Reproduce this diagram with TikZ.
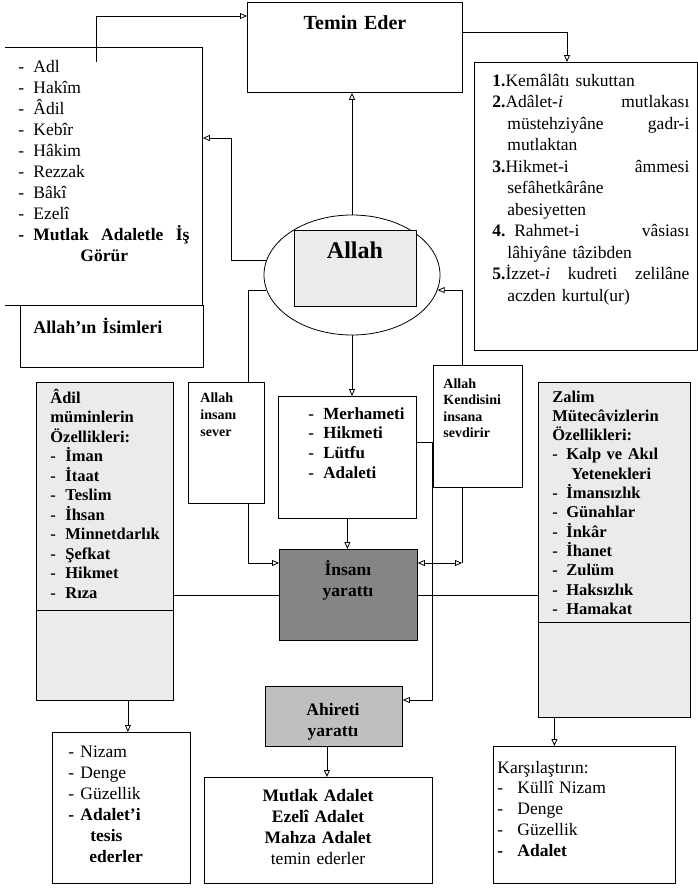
\documentclass[tikz,border=0pt]{standalone}
\usepackage{fontspec}
\setmainfont{Liberation Serif}
\usetikzlibrary{arrows.meta,shapes.geometric}
\newcommand{\itm}[2][15pt]{\makebox[#1][l]{-}#2}
\newcommand{\fs}[2]{\fontsize{#1}{#2}\selectfont}

\begin{document}
\begin{tikzpicture}[x=1pt,y=-1pt,line width=0.8pt,
  box/.style={draw,anchor=north west,inner sep=0pt},
  dotbox/.style={box,fill=black!8},
  txt/.style={anchor=base west,inner sep=0pt,align=left,text width=#1},
  txt/.default=140,
  ctr/.style={anchor=base,inner sep=0pt,align=center,text width=#1},
  ctr/.default=200,
  arr/.style={-{Triangle[open,length=7pt,width=6pt]}},
  arrs/.style={{Triangle[open,length=7pt,width=6pt]}-{Triangle[open,length=7pt,width=6pt]}}]
\useasboundingbox (0,0) rectangle (698,889);

\node[box,minimum width=215,minimum height=90] (temin) at (247,2) {};
\node[anchor=north west,inner sep=0pt,minimum width=197,minimum height=258] (names) at (5,47) {};
\draw (names.north west) -- (names.north east) -- (names.south east) -- (names.south west);
\node[box,minimum width=183,minimum height=62] (isim) at (20,305) {};
\node[box,minimum width=223,minimum height=288] (nums) at (474,62) {};
\node[draw,ellipse,minimum width=176,minimum height=120,inner sep=0pt] (ell) at (352,275) {};
\node[dotbox,minimum width=122,minimum height=76] (allah) at (294,230) {};
\node[box,minimum width=76,minimum height=121] (sever) at (188,382) {};
\node[box,minimum width=138,minimum height=122] (merh) at (278,396) {};
\node[box,minimum width=89,minimum height=122] (kendi) at (433,365) {};
\node[box,fill=black!48,minimum width=138,minimum height=91] (insan) at (279,549) {};
\node[dotbox,minimum width=137,minimum height=318] (adil) at (36,382) {};
\node[dotbox,minimum width=152,minimum height=335] (zalim) at (538,382) {};
\node[box,fill=black!25,minimum width=137,minimum height=60] (ahiret) at (265,686) {};
\node[box,minimum width=138,minimum height=151] (nizam) at (52,732) {};
\node[box,minimum width=228,minimum height=106] (mutlak) at (204,777) {};
\node[box,minimum width=182,minimum height=137] (kars) at (493,746) {};
\draw ([yshift=-228pt]adil.north west) -- ([yshift=-228pt]adil.north east);
\draw ([yshift=-240pt]zalim.north west) -- ([yshift=-240pt]zalim.north east);

\node[ctr,font=\fs{20}{24}\bfseries] (temin-t) at (355,29) {Temin Eder};
\node[txt=171,font=\fs{17.5}{21}] (names-t) at (18,72) {\itm{Adl}\\\itm{Hakîm}\\\itm{Âdil}\\\itm{Kebîr}\\\itm{Hâkim}\\\itm{Rezzak}\\\itm{Bâkî}\\\itm{Ezelî}\\\textbf{\itm{Mutlak}\hfill Adaletle\hfill İş}\\\hspace*{62pt}\textbf{Görür}};
\node[txt=170,font=\fs{18}{21}\bfseries] (isim-t) at (33,333) {Allah’ın İsimleri};
\node[txt=197,font=\fs{17.5}{21.5}] (nums-t) at (492,86) {\textbf{1.}Kemâlâtı sukuttan\\
  \textbf{2.}Adâlet-\textit{i}\hfill mutlakası\\
  \hspace*{15pt}müstehziyâne\hfill gadr-i\\
  \hspace*{15pt}mutlaktan\\
  \textbf{3.}Hikmet-i\hfill âmmesi\\
  \hspace*{15pt}sefâhetkârâne\\
  \hspace*{15pt}abesiyetten\\
  \textbf{4.} Rahmet-i\hfill vâsiası\\
  \hspace*{15pt}lâhiyâne tâzibden\\
  \textbf{5.}İzzet-\textit{i}\hfill kudreti\hfill zelilâne\\
  \hspace*{15pt}aczden kurtul(ur)};
\node[ctr,font=\fs{24}{28}\bfseries] (allah-t) at (355,258) {Allah};
\node[txt=105,font=\fs{17}{19.7}\bfseries] (merh-t) at (308,419) {\itm{Merhameti}\\\itm{Hikmeti}\\\itm{Lütfu}\\\itm{Adaleti}};
\node[txt=62,font=\fs{14}{17}\bfseries] (sever-t) at (200,402) {Allah\\insanı\\sever};
\node[txt=78,font=\fs{14}{16.5}\bfseries] (kendi-t) at (443,388) {Allah\\Kendisini\\insana\\sevdirir};
\node[ctr=130,font=\fs{17.5}{21}\bfseries] (insan-t) at (348,575) {İnsanı\\yarattı};
\node[txt=120,font=\fs{16.5}{19.5}\bfseries] (adil-t) at (50,403) {Âdil\\müminlerin\\Özellikleri:\\\itm{İman}\\\itm{İtaat}\\\itm{Teslim}\\\itm{İhsan}\\\itm{Minnetdarlık}\\\itm{Şefkat}\\\itm{Hikmet}\\\itm{Rıza}};
\node[txt=135,font=\fs{16.5}{19.3}\bfseries] (zalim-t) at (552,402) {Zalim\\Mütecâvizlerin\\Özellikleri:\\\itm[14pt]{Kalp ve Akıl}\\\hspace*{19pt}Yetenekleri\\\itm[14pt]{İmansızlık}\\\itm[14pt]{Günahlar}\\\itm[14pt]{İnkâr}\\\itm[14pt]{İhanet}\\\itm[14pt]{Zulüm}\\\itm[14pt]{Haksızlık}\\\itm[14pt]{Hamakat}};
\node[ctr=130,font=\fs{17.5}{21}\bfseries] (ahiret-t) at (333,715) {Ahireti\\yarattı};
\node[txt=115,font=\fs{17.5}{21}] (nizam-t) at (68,757) {\itm[12pt]{Nizam}\\\itm[12pt]{Denge}\\\itm[12pt]{Güzellik}\\\textbf{\itm[12pt]{Adalet’i}}\\\hspace*{22pt}\textbf{tesis}\\\hspace*{21pt}\textbf{ederler}};
\node[ctr=220,font=\fs{17.5}{21}] (mutlak-t) at (318,801) {\textbf{Mutlak Adalet}\\\textbf{Ezelî Adalet}\\\textbf{Mahza Adalet}\\temin ederler};
\node[txt=170,font=\fs{17.5}{20.8}] (kars-t) at (497,773) {Karşılaştırın:\\\itm[20pt]{Küllî Nizam}\\\itm[20pt]{Denge}\\\itm[20pt]{Güzellik}\\\textbf{\itm[20pt]{Adalet}}};

\draw[arr] ([shift={(91,15)}]names.north west) |- ([yshift=-14pt]temin.north west);
\draw[arr] ([yshift=-30pt]temin.north east) -| ([xshift=93pt]nums.north west);
\draw[arr] (ell.north) -- (ell.north |- temin.south);
\draw[arr] (ell.170) -- ++(-35,0) |- ([yshift=-91pt]names.north east);
\draw[arr] (ell.south) -- (ell.south |- merh.north);
\draw (ell.190) -| ([xshift=60pt]sever.north west);
\draw[arr] ([xshift=60pt]sever.south west) |- ([yshift=-14pt]insan.north west);
\draw[arr] (merh.south) -- (merh.south |- insan.north);
\draw[arr] ([xshift=29pt]kendi.north west) |- (ell.350);
\coordinate (ir) at ([yshift=-14pt]insan.north east);
\draw ([xshift=29pt]kendi.south west) coordinate (kb) -- (kb |- ir);
\draw[arrs] (ir) -- (kb |- ir);
\draw[arr] ([yshift=-46pt]merh.north east) -- ++(16,0) |- ([yshift=-14pt]ahiret.north east);
\draw[arr] ([xshift=-7pt]ahiret.south) -- ([xshift=-7pt]ahiret.south |- mutlak.north);
\draw (adil.east |- insan.west) -- (insan.west);
\draw (insan.east) -- (zalim.west |- insan.east);
\draw[arr] ([xshift=23pt]adil.south) -- ([xshift=23pt]adil.south |- nizam.north);
\draw[arr] ([xshift=-60pt]zalim.south) -- ([xshift=-60pt]zalim.south |- kars.north);
\end{tikzpicture}
\end{document}
